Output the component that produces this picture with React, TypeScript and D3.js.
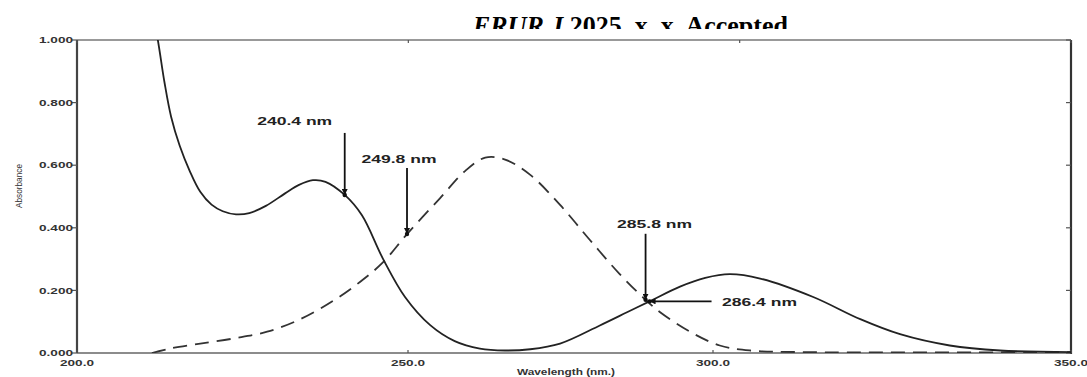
import React from 'react';
import * as d3 from 'd3';

// Absorption spectra: wavelength (nm) vs absorbance
const solidWavelength = [210.8, 212.2, 213.2, 214.2, 215.5, 217.0, 218.6, 220.3, 222.0, 224.0, 226.0, 228.5, 231.4, 233.5, 235.6, 237.5, 240.4, 243.0, 246.2, 249.5, 253.3, 257.0, 260.8, 264.6, 268.4, 272.9, 278.9, 283.0, 286.4, 291.0, 294.8, 298.5, 303.1, 311.1, 318.2, 324.2, 331.7, 339.3, 350.0];
const solidAbsorbance = [1.16, 1.0, 0.865, 0.755, 0.662, 0.582, 0.515, 0.474, 0.453, 0.443, 0.447, 0.47, 0.51, 0.537, 0.552, 0.547, 0.505, 0.44, 0.3, 0.179, 0.089, 0.038, 0.014, 0.008, 0.012, 0.03, 0.088, 0.13, 0.165, 0.212, 0.24, 0.252, 0.238, 0.179, 0.108, 0.06, 0.024, 0.008, 0.003];

const dashedWavelength = [211.3, 214.0, 218.6, 223.8, 228.7, 233.7, 238.6, 242.7, 246.2, 249.8, 254.8, 258.6, 261.6, 264.6, 268.4, 272.9, 277.4, 281.9, 285.8, 288.0, 292.5, 297.0, 301.6, 309.1, 350.0];
const dashedAbsorbance = [0.0, 0.014, 0.03, 0.047, 0.068, 0.108, 0.166, 0.227, 0.29, 0.38, 0.495, 0.582, 0.624, 0.618, 0.569, 0.473, 0.361, 0.252, 0.17, 0.13, 0.068, 0.024, 0.008, 0.003, 0.003];

const yTickValues = [0, 0.2, 0.4, 0.6, 0.8, 1.0];
const xTickValues = [200, 250, 300, 350];

const markLabels = ['240.4 nm', '249.8 nm', '285.8 nm', '286.4 nm'];
const markWavelengths = [240.4, 249.8, 285.8, 286.4];
const markAbsorbances = [0.505, 0.38, 0.17, 0.165];

const titleText = 'ERUR J';
const titleRest = ' 2025, x, x, Accepted';

const W = 1087;
const H = 377;
const plot = { left: 77, right: 1071, top: 40, bottom: 353 };

export default function App() {
  const x = d3.scaleLinear().domain([200, 350]).range([plot.left, plot.right]);
  // the printed axis labels sit on a slightly uneven grid
  const xAxisLabel = d3.scaleLinear().domain(xTickValues).range([77, 408, 713, 1071]);
  const y = d3.scaleLinear().domain([0, 1]).range([plot.bottom, plot.top]);

  const line = d3
    .line<[number, number]>()
    .x((d) => x(d[0]))
    .y((d) => y(d[1]))
    .curve(d3.curveCatmullRom.alpha(0.5));

  const solid = line(solidWavelength.map((w, i) => [w, solidAbsorbance[i]]) as [number, number][]) || '';
  const dashed = line(dashedWavelength.map((w, i) => [w, dashedAbsorbance[i]]) as [number, number][]) || '';

  // arrow direction per annotation: down-pointing from a label above, or left-pointing from a label to the right
  const arrowSpec = [
    { dir: 'down', len: 62, dx: -50, dy: -74 },
    { dir: 'down', len: 66, dx: -8, dy: -75 },
    { dir: 'down', len: 66, dx: 9, dy: -76 },
    { dir: 'left', len: 62, dx: 110, dy: 1 },
  ];

  const font = '"Liberation Sans", Arial, sans-serif';

  return (
    <svg
      width={W}
      height={H}
      viewBox={`0 0 ${W} ${H}`}
      style={{ position: 'absolute', left: 0, top: 0, background: '#fff' }}
    >
      <defs>
        <clipPath id="plotClip">
          <rect x={plot.left} y={plot.top} width={plot.right - plot.left} height={plot.bottom - plot.top} />
        </clipPath>
        <clipPath id="titleClip">
          <rect x={0} y={0} width={W} height={29} />
        </clipPath>
        <marker id="arrowHead" viewBox="0 0 10 10" refX={10} refY={5} markerWidth={6} markerHeight={6} orient="auto" markerUnits="userSpaceOnUse">
          <path d="M0,0 L10,5 L0,10 z" fill="#111" />
        </marker>
      </defs>

      <g clipPath="url(#titleClip)">
        <text x={473} y={33.5} fontFamily='"Liberation Serif", "Times New Roman", serif' fontWeight="bold" fontSize={26} fill="#000">
          <tspan fontStyle="italic">{titleText}</tspan>
          <tspan>{titleRest}</tspan>
        </text>
      </g>

      {/* frame */}
      <line x1={plot.left} x2={plot.right} y1={plot.top} y2={plot.top} stroke="#777" strokeWidth={1.6} />
      <line x1={plot.left} x2={plot.right} y1={plot.bottom} y2={plot.bottom} stroke="#666" strokeWidth={1.6} />
      <line x1={plot.left} x2={plot.left} y1={plot.top} y2={plot.bottom} stroke="#444" strokeWidth={2.2} />
      <line x1={plot.right} x2={plot.right} y1={plot.top} y2={plot.bottom + 1} stroke="#333" strokeWidth={2.2} />

      {/* y ticks */}
      {yTickValues.map((v) => (
        <g key={v}>
          <line x1={plot.left - 5} x2={plot.left} y1={y(v)} y2={y(v)} stroke="#555" strokeWidth={1.2} />
          <line x1={plot.right - 5} x2={plot.right} y1={y(v)} y2={y(v)} stroke="#555" strokeWidth={1.2} />
          <text
            x={plot.left - 4}
            y={y(v)}
            dy="0.35em"
            textAnchor="end"
            fontFamily={font}
            fontWeight="bold"
            fontSize={9}
            fill="#333"
            textLength={34}
            lengthAdjust="spacingAndGlyphs"
          >
            {d3.format('.3f')(v)}
          </text>
        </g>
      ))}

      {/* x ticks */}
      {xTickValues.map((v) => (
        <g key={v}>
          <line x1={xAxisLabel(v)} x2={xAxisLabel(v)} y1={plot.bottom} y2={plot.bottom - 3} stroke="#555" strokeWidth={1.2} />
          <line x1={x(v)} x2={x(v)} y1={plot.top} y2={plot.top + 3} stroke="#555" strokeWidth={1.2} />
          <text
            x={xAxisLabel(v)}
            y={366}
            textAnchor="middle"
            fontFamily={font}
            fontWeight="bold"
            fontSize={9}
            fill="#333"
            textLength={34}
            lengthAdjust="spacingAndGlyphs"
          >
            {d3.format('.1f')(v)}
          </text>
        </g>
      ))}

      <text
        transform="translate(22,186) rotate(-90)"
        textAnchor="middle"
        fontFamily={font}
        fontSize={8.5}
        fill="#333"
        textLength={44}
        lengthAdjust="spacingAndGlyphs"
      >
        Absorbance
      </text>
      <text
        x={566}
        y={375}
        textAnchor="middle"
        fontFamily={font}
        fontWeight="bold"
        fontSize={9}
        fill="#333"
        textLength={98}
        lengthAdjust="spacingAndGlyphs"
      >
        Wavelength (nm.)
      </text>

      {/* spectra */}
      <g clipPath="url(#plotClip)" fill="none">
        <path d={dashed} stroke="#333" strokeWidth={1.8} strokeDasharray="14 8" />
        <path d={solid} stroke="#222" strokeWidth={1.8} />
      </g>

      {/* annotations */}
      {markLabels.map((label, i) => {
        const px = x(markWavelengths[i]);
        const py = y(markAbsorbances[i]);
        const s = arrowSpec[i];
        const sx = s.dir === 'down' ? px : px + s.len;
        const sy = s.dir === 'down' ? py - s.len : py;
        return (
          <g key={label}>
            <line x1={sx} y1={sy} x2={px} y2={py} stroke="#111" strokeWidth={1.8} markerEnd="url(#arrowHead)" />
            <circle cx={px} cy={py} r={2.2} fill="#111" />
            <text
              x={px + s.dx}
              y={py + s.dy}
              dy="0.35em"
              textAnchor="middle"
              fontFamily={font}
              fontWeight="bold"
              fontSize={11}
              fill="#222"
              textLength={75}
              lengthAdjust="spacingAndGlyphs"
            >
              {label}
            </text>
          </g>
        );
      })}
    </svg>
  );
}
